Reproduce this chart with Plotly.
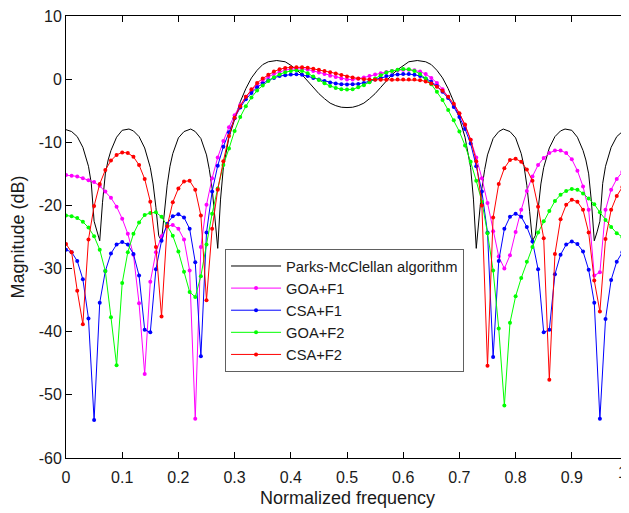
import plotly.graph_objects as go

# ---------------- data ----------------
freq = [i / 100 for i in range(101)]

pm_x = [0.000, 0.010, 0.020, 0.030, 0.040, 0.045, 0.050, 0.055, 0.060, 0.065,
        0.070, 0.075, 0.080, 0.090, 0.100, 0.112, 0.120, 0.130, 0.140, 0.150,
        0.155, 0.160, 0.165, 0.170, 0.175, 0.180, 0.185, 0.190, 0.200, 0.210,
        0.222, 0.230, 0.240, 0.250, 0.255, 0.260, 0.265, 0.270, 0.275, 0.280,
        0.290, 0.300, 0.310, 0.320, 0.330, 0.340, 0.350, 0.360, 0.375, 0.390,
        0.400, 0.410, 0.420, 0.430, 0.440, 0.450, 0.460, 0.470, 0.480, 0.490,
        0.500,
        0.510, 0.520, 0.530, 0.540, 0.550, 0.560, 0.570, 0.580, 0.590, 0.600,
        0.610, 0.625, 0.640, 0.650, 0.660, 0.670, 0.680, 0.690, 0.700, 0.710,
        0.720, 0.725, 0.730, 0.735, 0.740, 0.745, 0.750, 0.760, 0.770, 0.778,
        0.790, 0.800, 0.810, 0.815, 0.820, 0.825, 0.830, 0.835, 0.840, 0.845,
        0.850, 0.860, 0.870, 0.880, 0.888, 0.900, 0.910, 0.920, 0.925, 0.930,
        0.935, 0.940, 0.945, 0.950, 0.955, 0.960, 0.970, 0.980, 0.990, 1.000]
pm_db = [-8.0, -8.3, -9.1, -10.8, -13.8, -16.5, -22.5, -24.2, -25.6, -19.5,
         -15.0, -12.8, -11.3, -9.2, -8.1, -7.9, -8.2, -9.1, -10.9, -14.0,
         -16.6, -20.3, -24.8, -25.6, -21.0, -16.8, -13.8, -11.8, -9.3, -8.3,
         -7.9, -8.3, -9.4, -12.0, -14.3, -17.3, -22.0, -26.8, -19.0, -14.0,
         -9.2, -6.2, -3.6, -1.5, 0.2, 1.4, 2.3, 2.75, 2.95, 2.75,
         2.2, 1.5, 0.7, -0.3, -1.3, -2.3, -3.1, -3.8, -4.2, -4.45,
         -4.5,
         -4.45, -4.2, -3.8, -3.1, -2.3, -1.3, -0.3, 0.7, 1.5, 2.2,
         2.75, 2.95, 2.75, 2.3, 1.4, 0.2, -1.5, -3.6, -6.2, -9.2,
         -14.0, -19.0, -26.8, -22.0, -17.3, -14.3, -12.0, -9.4, -8.3, -7.9,
         -8.3, -9.3, -11.8, -13.8, -16.8, -21.0, -25.6, -24.8, -20.3, -16.6,
         -14.0, -10.9, -9.1, -8.2, -7.9, -8.1, -9.2, -11.3, -12.8, -15.0,
         -19.5, -25.6, -24.2, -22.5, -16.5, -13.8, -10.8, -9.1, -8.3, -8.0]

goa_f1 = [-15.2, -15.3, -15.4, -15.7, -16.0, -16.3, -16.9, -17.8, -18.8, -20.2,
          -22.1, -24.5, -27.8, -35.5, -46.7, -32.1, -27.4, -24.9, -23.3, -23.1,
          -23.7, -25.4, -30.3, -53.8, -26.6, -19.9, -15.7, -12.4, -9.8, -7.6,
          -5.7, -4.1, -2.8, -1.85, -0.95, -0.26, 0.37, 0.8, 1.16, 1.43,
          1.6, 1.64, 1.64, 1.53, 1.3, 1.06, 0.8, 0.53, 0.32, 0.1,
          -0.05, -0.05, 0.05, 0.26, 0.48, 0.74, 0.95, 1.15, 1.3, 1.42,
          1.5, 1.5, 1.4, 1.2, 0.8, 0.2, -0.6, -1.6, -2.8, -4.1,
          -5.5, -7.4, -9.6, -12.4, -15.7, -19.6, -24.1, -28.1, -30.0, -27.9,
          -24.2, -20.7, -17.7, -15.4, -13.6, -12.5, -11.7, -11.3, -11.3, -11.7,
          -12.7, -14.5, -17.0, -20.7, -31.1, -30.6, -20.7, -17.5, -15.8, -14.7,
          -14.3]

csa_f1 = [-27.0, -27.4, -28.8, -31.7, -37.9, -54.0, -35.4, -30.4, -27.6, -26.2,
          -25.8, -26.2, -27.7, -31.1, -39.7, -40.1, -30.1, -25.6, -22.9, -21.7,
          -21.4, -21.9, -23.7, -29.0, -43.9, -24.3, -17.8, -13.7, -10.7, -8.4,
          -6.2, -4.5, -3.2, -2.2, -1.3, -0.7, -0.16, 0.2, 0.48, 0.63,
          0.74, 0.76, 0.7, 0.5, 0.2, -0.05, -0.3, -0.53, -0.7, -0.8,
          -0.85, -0.8, -0.75, -0.6, -0.37, -0.05, 0.2, 0.48, 0.63, 0.74,
          0.8, 0.8, 0.7, 0.5, 0.1, -0.4, -1.1, -2.0, -3.0, -4.4,
          -6.0, -7.9, -10.2, -13.8, -17.8, -24.3, -44.0, -28.8, -23.7, -21.8,
          -21.3, -21.8, -23.4, -25.7, -30.1, -40.1, -39.7, -30.9, -27.8, -26.2,
          -25.7, -26.1, -27.3, -30.2, -35.4, -53.8, -38.0, -31.8, -28.9, -27.4,
          -26.9]

goa_f2 = [-21.6, -21.7, -22.0, -22.6, -23.5, -24.9, -27.0, -30.4, -37.7, -45.3,
          -32.3, -27.4, -24.5, -22.7, -21.5, -21.2, -21.1, -21.8, -23.2, -24.8,
          -27.3, -30.5, -33.7, -34.5, -31.2, -26.2, -21.3, -17.3, -13.6, -11.0,
          -8.2, -6.0, -4.3, -2.9, -1.8, -1.0, -0.3, 0.3, 0.75, 1.1,
          1.3, 1.4, 1.3, 0.95, 0.4, -0.15, -0.65, -1.1, -1.4, -1.6,
          -1.65, -1.6, -1.3, -0.95, -0.5, 0.1, 0.63, 1.06, 1.3, 1.5,
          1.6, 1.55, 1.3, 0.8, 0.1, -0.8, -2.0, -3.3, -4.9, -6.5,
          -8.3, -10.5, -13.1, -16.1, -19.4, -24.4, -30.3, -39.5, -51.7, -38.6,
          -34.4, -31.5, -28.9, -26.6, -24.3, -22.5, -20.9, -19.3, -18.3, -17.7,
          -17.4, -17.5, -18.1, -18.9, -19.8, -21.1, -22.3, -23.4, -24.4, -25.0,
          -25.2]

csa_f2 = [-26.1, -27.4, -33.5, -38.8, -25.4, -20.1, -16.6, -14.4, -12.9, -12.0,
          -11.6, -11.7, -12.3, -13.6, -15.8, -19.4, -26.6, -37.6, -23.3, -19.5,
          -17.3, -16.2, -16.1, -17.5, -21.6, -35.0, -23.7, -17.5, -13.0, -9.0,
          -6.1, -4.3, -2.8, -1.6, -0.6, 0.1, 0.7, 1.2, 1.55, 1.78,
          1.85, 1.9, 1.88, 1.8, 1.65, 1.5, 1.3, 1.1, 0.9, 0.65,
          0.4, 0.25, 0.1, 0.0, -0.05, -0.1, -0.1, -0.1, -0.1, -0.05,
          -0.05, -0.05, -0.05, -0.16, -0.37, -0.7, -1.2, -1.85, -2.8, -3.9,
          -5.4, -7.2, -9.6, -13.0, -20.0, -45.4, -21.9, -16.6, -14.1, -12.8,
          -12.6, -13.1, -14.3, -16.1, -20.2, -25.2, -47.6, -27.7, -22.2, -19.9,
          -19.1, -19.4, -20.7, -24.3, -31.9, -36.8, -25.3, -20.7, -18.5, -17.1,
          -16.7]

x_ticks = [0, 0.1, 0.2, 0.3, 0.4, 0.5, 0.6, 0.7, 0.8, 0.9, 1]
x_tick_text = ["0", "0.1", "0.2", "0.3", "0.4", "0.5", "0.6", "0.7", "0.8", "0.9", ""]
x_last_label = "1"
y_ticks = [-60, -50, -40, -30, -20, -10, 0, 10]
y_tick_text = ["-60", "-50", "-40", "-30", "-20", "-10", "0", "10"]

series = [
    ("GOA+F1", goa_f1, "#FF00FF"),
    ("CSA+F1", csa_f1, "#0000FF"),
    ("GOA+F2", goa_f2, "#00FF00"),
    ("CSA+F2", csa_f2, "#FF0000"),
]

# ---------------- figure ----------------
fig = go.Figure()
fig.add_trace(go.Scatter(x=pm_x, y=pm_db, mode="lines", name="Parks-McClellan algorithm",
                         line=dict(color="black", width=1)))
for name, vals, col in series:
    fig.add_trace(go.Scatter(x=freq, y=vals, mode="lines+markers", name=name,
                             line=dict(color=col, width=1),
                             marker=dict(color=col, size=4, symbol="circle")))

axis_common = dict(showline=True, linecolor="black", linewidth=1, mirror="ticks",
                   ticks="inside", ticklen=6, tickcolor="black", showgrid=False,
                   zeroline=False, ticklabeloverflow="allow",
                   tickfont=dict(size=16, color="#1a1a1a"))

fig.update_xaxes(range=[0, 1], tickvals=x_ticks, ticktext=x_tick_text,
                 ticklabelstandoff=5, **axis_common)
fig.update_yaxes(range=[-60, 10], tickvals=y_ticks, ticktext=y_tick_text,
                 ticklabelstandoff=0, **axis_common)

# the page body adds an 8 px offset, so the figure is sized to fit the window
fig.update_layout(
    width=621, height=505,
    margin=dict(l=58, r=1, t=8, b=55, autoexpand=False),
    paper_bgcolor="white", plot_bgcolor="white",
    font=dict(family="Liberation Sans, Arial, sans-serif", size=15, color="#1a1a1a"),
    showlegend=True,
    legend=dict(x=0.283, y=0.473, xanchor="left", yanchor="top",
                bgcolor="white", bordercolor="#606060", borderwidth=1,
                font=dict(size=14.7), itemwidth=50, tracegroupgap=0),
    annotations=[
        dict(text=x_last_label, x=x_ticks[-1], xref="x", y=0, yref="paper",
             xanchor="right", yanchor="top", xshift=1, yshift=-4, showarrow=False,
             font=dict(size=16, color="#1a1a1a")),
        dict(text="Normalized frequency", xref="paper", yref="paper", x=0.5, y=-0.0905,
             xanchor="center", yanchor="middle", showarrow=False, font=dict(size=18)),
        dict(text="Magnitude (dB)", xref="paper", yref="paper", x=-0.0854, y=0.499,
             xanchor="center", yanchor="middle", textangle=-90, showarrow=False,
             font=dict(size=18)),
    ],
)

fig.write_html("out.html")
